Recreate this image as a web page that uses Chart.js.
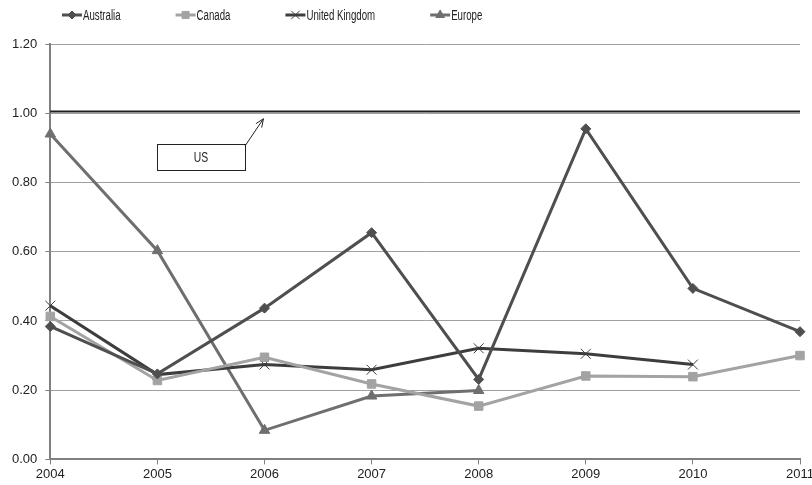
<!DOCTYPE html>
<html>
<head>
<meta charset="utf-8">
<script src="https://cdn.jsdelivr.net/npm/chart.js@4/dist/chart.umd.min.js"></script>
<style>
  html, body { margin: 0; padding: 0; background: #fff; }
  #wrap { width: 812px; height: 485px; }
</style>
</head>
<body>
<div id="wrap"><canvas id="chart" width="812" height="485"></canvas></div>
<script>
const years = ['2004', '2005', '2006', '2007', '2008', '2009', '2010', '2011'];
const australia = [0.384, 0.247, 0.437, 0.655, 0.231, 0.955, 0.494, 0.369];
const canada = [0.413, 0.228, 0.295, 0.218, 0.154, 0.241, 0.239, 0.300];
const unitedKingdom = [0.444, 0.245, 0.274, 0.259, 0.321, 0.305, 0.274, null];
const europe = [0.940, 0.603, 0.084, 0.183, 0.199, null, null, null];
const usLevel = [1.005, 1.005, 1.005, 1.005, 1.005, 1.005, 1.005, 1.005];
const yTicks = [0, 0.2, 0.4, 0.6, 0.8, 1.0, 1.2];

const FONT = "'Liberation Sans', Arial, sans-serif";
const NARROW = 0.69; // horizontal squeeze for the condensed-looking legend/callout text
Chart.defaults.font.family = FONT;
Chart.defaults.color = '#222';

function series(label, data, color, style, radius) {
  return {
    label: label,
    data: data,
    borderColor: color,
    backgroundColor: color,
    borderWidth: 3,
    pointStyle: style,
    pointRadius: radius,
    pointBorderWidth: 1,
    pointBackgroundColor: color,
    pointBorderColor: color,
    tension: 0,
    spanGaps: false
  };
}

const datasets = [
  series('Australia', australia, '#4f4f4f', 'rectRot', 5),
  series('Canada', canada, '#a3a3a3', 'rect', 6),
  series('United Kingdom', unitedKingdom, '#3d3d3d', 'crossRot', 7),
  series('Europe', europe, '#6f6f6f', 'triangle', 6),
  {
    label: 'US',
    data: usLevel,
    borderColor: '#1e1e1e',
    borderWidth: 2,
    pointRadius: 0,
    tension: 0
  }
];

function narrowText(ctx, text, x, y) {
  ctx.save();
  ctx.translate(x, y);
  ctx.scale(NARROW, 1);
  ctx.fillText(text, 0, 0);
  ctx.restore();
}

// legend row: short line with the marker in its middle, then the name
const lineLegend = {
  id: 'lineLegend',
  afterDraw(chart) {
    const ctx = chart.ctx;
    const y = 15;
    let x = 62;
    ctx.save();
    ctx.font = '14px ' + FONT;
    ctx.textBaseline = 'middle';
    ctx.textAlign = 'left';
    chart.data.datasets.forEach(ds => {
      if (ds.label === 'US') return;
      const seg = 20;
      ctx.strokeStyle = ds.borderColor;
      ctx.lineWidth = 3;
      ctx.beginPath();
      ctx.moveTo(x, y);
      ctx.lineTo(x + seg, y);
      ctx.stroke();
      ctx.fillStyle = ds.borderColor;
      ctx.lineWidth = ds.pointBorderWidth;
      Chart.helpers.drawPoint(ctx, {
        pointStyle: ds.pointStyle,
        radius: ds.pointRadius - 1,
        borderWidth: ds.pointBorderWidth,
        rotation: 0
      }, x + seg / 2, y);
      ctx.fillStyle = '#222';
      narrowText(ctx, ds.label, x + seg + 1, y + 1);
      x += seg + 1 + ctx.measureText(ds.label).width * NARROW + 55;
    });
    ctx.restore();
  }
};

// "US" callout box with an arrow pointing at the US level line
const usCallout = {
  id: 'usCallout',
  afterDatasetsDraw(chart) {
    const xs = chart.scales.x, ys = chart.scales.y;
    const ctx = chart.ctx;
    const left = Math.round(xs.getPixelForValue(1)), right = Math.round(xs.getPixelForValue(1.82));
    const top = Math.round(ys.getPixelForValue(0.91)), bottom = Math.round(ys.getPixelForValue(0.836));
    ctx.save();
    ctx.fillStyle = '#fff';
    ctx.strokeStyle = '#222';
    ctx.lineWidth = 1;
    ctx.fillRect(left, top, right - left, bottom - top);
    ctx.strokeRect(left + 0.5, top + 0.5, right - left, bottom - top);
    ctx.fillStyle = '#222';
    ctx.font = '15px ' + FONT;
    ctx.textAlign = 'center';
    ctx.textBaseline = 'middle';
    narrowText(ctx, 'US', (left + right) / 2, (top + bottom) / 2 + 1);
    // arrow
    const ax = right, ay = top + 2;
    const bx = xs.getPixelForValue(1.99), by = ys.getPixelForValue(0.984);
    ctx.beginPath();
    ctx.moveTo(ax, ay);
    ctx.lineTo(bx, by);
    const ang = Math.atan2(by - ay, bx - ax);
    const head = 9;
    ctx.moveTo(bx - head * Math.cos(ang - 0.4), by - head * Math.sin(ang - 0.4));
    ctx.lineTo(bx, by);
    ctx.lineTo(bx - head * Math.cos(ang + 0.4), by - head * Math.sin(ang + 0.4));
    ctx.stroke();
    ctx.restore();
  }
};

new Chart(document.getElementById('chart'), {
  type: 'line',
  data: { labels: years, datasets: datasets },
  options: {
    responsive: false,
    animation: false,
    layout: { padding: { top: 44, left: 4, right: 0, bottom: 0 } },
    plugins: {
      legend: { display: false },
      tooltip: { enabled: false }
    },
    scales: {
      x: {
        type: 'category',
        offset: false,
        afterFit(scale) {
          // let the last year label run off the edge
          scale.paddingRight = 12;
        },
        grid: {
          drawOnChartArea: false,
          drawTicks: true,
          tickLength: 5,
          tickColor: '#808080',
          tickWidth: 1
        },
        border: { display: true, color: '#808080', width: 2 },
        ticks: {
          padding: 2.5,
          maxRotation: 0,
          autoSkip: false,
          font: { size: 13 },
          color: '#222'
        }
      },
      y: {
        min: 0,
        max: 1.2,
        afterBuildTicks(scale) {
          scale.ticks = yTicks.map(v => ({ value: v }));
        },
        grid: {
          color: '#a0a0a0',
          lineWidth: 1,
          drawTicks: true,
          tickLength: 5,
          tickColor: '#808080'
        },
        border: { display: true, color: '#808080', width: 2 },
        ticks: {
          padding: 8,
          font: { size: 13 },
          color: '#222',
          callback: v => Number(v).toFixed(2)
        }
      }
    }
  },
  plugins: [lineLegend, usCallout]
});
</script>
</body>
</html>
